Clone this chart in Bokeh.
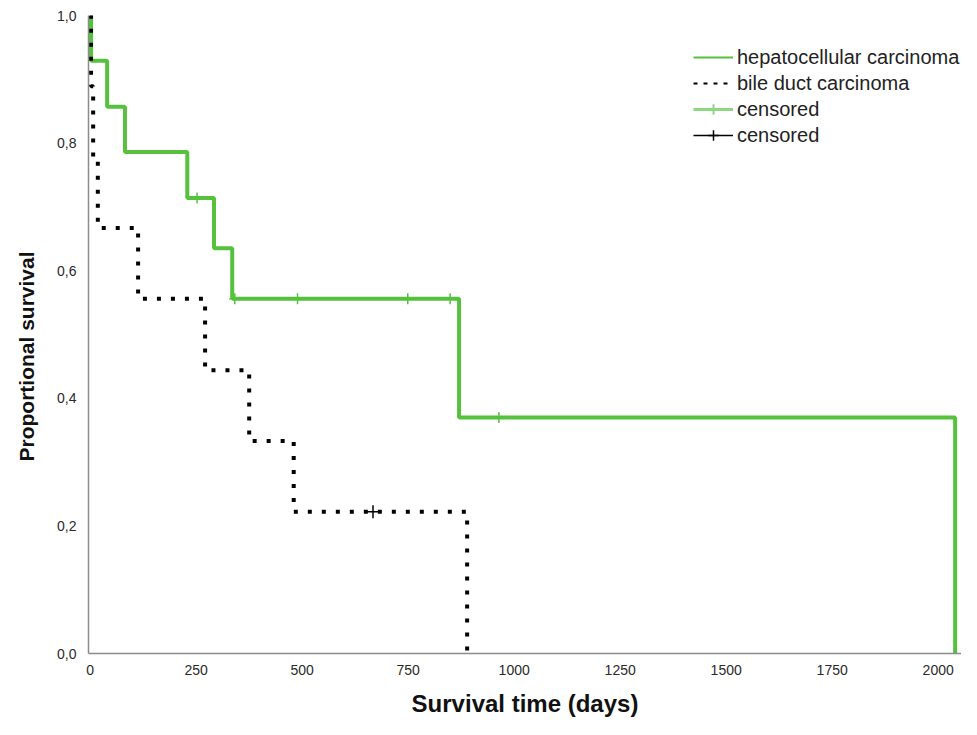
from bokeh.plotting import figure
from bokeh.models import (Range1d, CustomJSTickFormatter, FixedTicker, Legend,
                          LegendItem, Title)
from bokeh.embed import file_html
from bokeh.resources import INLINE

# ---- data ----
hcc_time = [0, 2, 40, 82, 229, 292, 335, 870, 2040]
hcc_surv = [1.0, 0.929, 0.857, 0.786, 0.714, 0.635, 0.556, 0.370, 0.0]
hcc_cens_time = [252, 341, 489, 749, 849, 964]
hcc_cens_surv = [0.714, 0.556, 0.556, 0.556, 0.556, 0.370]

bdc_time = [0, 2, 7, 18, 113, 271, 375, 480, 889]
bdc_surv = [1.0, 0.889, 0.778, 0.667, 0.556, 0.444, 0.333, 0.222, 0.0]
bdc_cens_time = [667]
bdc_cens_surv = [0.222]

x_ticks = [0, 250, 500, 750, 1000, 1250, 1500, 1750, 2000]
y_ticks = [0.0, 0.2, 0.4, 0.6, 0.8, 1.0]

GREEN = "#55c13d"
LIGHT_GREEN = "#8fd681"
FONT = "Liberation Sans"

p = figure(width=961, height=719, x_range=Range1d(-4, 2055), y_range=Range1d(0, 1.0),
           output_backend="svg", toolbar_location=None,
           min_border_left=88, min_border_right=0, min_border_top=15, min_border_bottom=60)
p.outline_line_color = None
p.xgrid.visible = False
p.ygrid.visible = False
p.background_fill_color = "white"
p.border_fill_color = "white"

for ax in (p.xaxis[0], p.yaxis[0]):
    ax.axis_line_color = "#8c8c8c"
    ax.axis_line_width = 1.5
    ax.major_tick_line_color = None
    ax.minor_tick_line_color = None
    ax.major_label_text_font = FONT
    ax.major_label_text_font_size = "14px"
    ax.major_label_text_color = "#2a2a2a"
    ax.axis_label_text_font = FONT
    ax.axis_label_text_font_style = "bold"
    ax.axis_label_text_color = "#111111"

p.xaxis.ticker = FixedTicker(ticks=x_ticks)
p.yaxis.ticker = FixedTicker(ticks=y_ticks)
p.yaxis.formatter = CustomJSTickFormatter(code="return tick.toFixed(1).replace('.', ',');")
p.xaxis.axis_label = "Survival time (days)"
p.xaxis.axis_label_text_font_size = "24px"
p.xaxis.major_label_standoff = 5
p.xaxis.axis_label_standoff = 12
p.yaxis.major_label_standoff = 6

# y-axis title as a left-side Title, anchored from the bottom so it sits like the reference
ytitle = Title(text="Proportional survival", align="left", vertical_align="top",
               offset=192, standoff=29,
               text_font=FONT, text_font_size="21px", text_font_style="bold",
               text_color="#111111")
p.add_layout(ytitle, "left")

hcc_r = p.step(hcc_time, hcc_surv, mode="after", line_color=GREEN, line_width=4)
bdc_r = p.step(bdc_time, bdc_surv, mode="after", line_color="black", line_width=4,
               line_dash="4 10")
p.scatter(hcc_cens_time, hcc_cens_surv, marker="cross", size=11,
          line_color=GREEN, line_width=1.5)
p.scatter(bdc_cens_time, bdc_cens_surv, marker="cross", size=13,
          line_color="black", line_width=1.5)

# legend proxies: hidden renderers that reuse the same data
hcc_leg = p.step(hcc_time, hcc_surv, mode="after", line_color=GREEN, line_width=2,
                 visible=False)
bdc_leg = p.step(bdc_time, bdc_surv, mode="after", line_color="black", line_width=2,
                 line_dash="4 6", visible=False)
g_line = p.line(hcc_cens_time, hcc_cens_surv, line_color=LIGHT_GREEN, line_width=3,
                visible=False)
g_cross = p.scatter(hcc_cens_time, hcc_cens_surv, marker="cross", size=20,
                    line_color=LIGHT_GREEN, line_width=2, visible=False)
b_line = p.line(bdc_cens_time, bdc_cens_surv, line_color="black", line_width=1.5,
                visible=False)
b_cross = p.scatter(bdc_cens_time, bdc_cens_surv, marker="cross", size=20,
                    line_color="black", line_width=1.5, visible=False)

legend = Legend(items=[
    LegendItem(label="hepatocellular carcinoma", renderers=[hcc_leg]),
    LegendItem(label="bile duct carcinoma", renderers=[bdc_leg]),
    LegendItem(label="censored", renderers=[g_line, g_cross]),
    LegendItem(label="censored", renderers=[b_line, b_cross]),
], location=(605, 505))
legend.background_fill_alpha = 0
legend.border_line_color = None
legend.padding = 0
legend.margin = 0
legend.spacing = 0
legend.glyph_width = 40
legend.glyph_height = 26
legend.label_height = 26
legend.label_standoff = 4
legend.label_text_font = FONT
legend.label_text_font_size = "20px"
legend.label_text_color = "#222222"
p.add_layout(legend)

open("out.html", "w").write(file_html(p, INLINE))
